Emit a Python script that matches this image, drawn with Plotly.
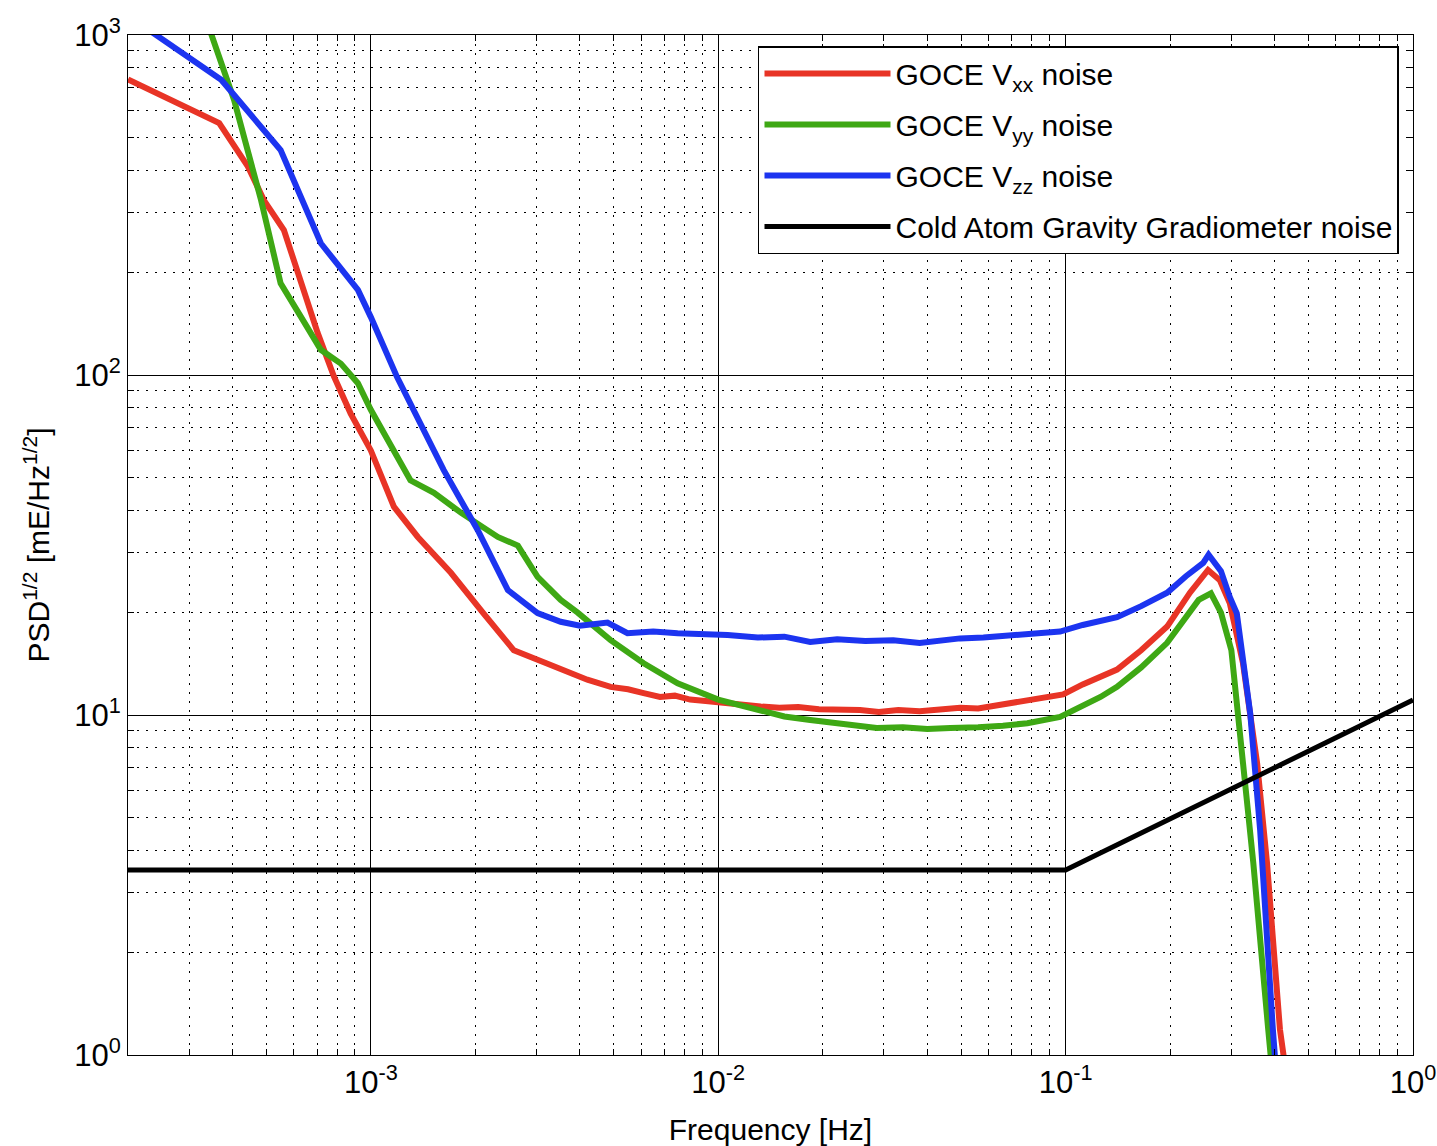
import plotly.graph_objects as go

# ---- data ----
vxx_f = [2.0e-4, 3.66e-4, 4.43e-4, 4.92e-4, 5.62e-4, 6.3e-4, 7.03e-4, 7.83e-4, 8.75e-4, 1.0e-3,
         1.165e-3, 1.365e-3, 1.70e-3, 2.11e-3, 2.58e-3, 3.2e-3, 3.7e-3, 4.2e-3, 4.9e-3,
         5.5e-3, 6.1e-3, 6.8e-3, 7.5e-3, 8.3e-3, 9.2e-3, 0.0106, 0.0118, 0.01325, 0.0150, 0.0170,
         0.0195, 0.0225, 0.0256, 0.029, 0.033, 0.038, 0.0435, 0.0497, 0.056, 0.064, 0.0776, 0.0890,
         0.0984, 0.112, 0.126, 0.1406, 0.165, 0.196, 0.228, 0.257, 0.278, 0.297, 0.324, 0.356,
         0.38, 0.414, 0.43]
vxx_v = [740, 551, 410, 327, 267, 186, 133, 99, 77, 60,
         41, 33.4, 26.2, 19.9, 15.5, 14.2, 13.4, 12.7, 12.1,
         11.9, 11.6, 11.3, 11.4, 11.1, 11.0, 10.8, 10.7, 10.6, 10.5, 10.55,
         10.4, 10.4, 10.35, 10.2, 10.35, 10.25, 10.4, 10.5, 10.45, 10.7, 11.1, 11.3,
         11.5, 12.3, 12.9, 13.6, 15.5, 18.2, 22.9, 26.7, 24.9, 21.3, 14.2, 7.2,
         3.67, 1.19, 0.9]

vyy_f = [3.2e-4, 3.47e-4, 4.04e-4, 4.83e-4, 5.5e-4, 6.3e-4, 7.18e-4, 8.2e-4, 9.18e-4, 1.0e-3,
         1.3e-3, 1.52e-3, 1.82e-3, 2.32e-3, 2.65e-3, 3.02e-3, 3.52e-3, 3.94e-3, 4.9e-3, 6.1e-3,
         7.64e-3, 0.0100, 0.01325, 0.0155, 0.0184, 0.0215, 0.024, 0.0286, 0.034, 0.040, 0.0466,
         0.0497, 0.056, 0.066, 0.0776, 0.0964, 0.112, 0.126, 0.1406, 0.165, 0.196, 0.2416, 0.262,
         0.280, 0.300, 0.324, 0.347, 0.383, 0.395]
vyy_v = [1280, 1000, 644, 327, 186, 148, 118.6, 108, 94.6, 79,
         49, 45, 39.3, 33.4, 31.5, 25.5, 21.8, 20.0, 16.6, 14.2,
         12.4, 11.1, 10.35, 9.9, 9.67, 9.5, 9.4, 9.16, 9.2, 9.1, 9.16,
         9.16, 9.2, 9.3, 9.46, 9.87, 10.6, 11.3, 12.1, 13.8, 16.3, 21.8, 22.8,
         20.0, 15.5, 7.2, 3.67, 1.19, 0.85]

vzz_f = [2.0e-4, 2.41e-4, 3.71e-4, 5.5e-4, 7.18e-4, 9.18e-4, 1.0e-3, 1.19e-3, 1.62e-3, 2.03e-3,
         2.48e-3, 3.02e-3, 3.52e-3, 4.0e-3, 4.8e-3, 5.48e-3, 6.5e-3, 7.64e-3, 0.01064, 0.0130,
         0.0155, 0.0184, 0.022, 0.0265, 0.0319, 0.038, 0.0435, 0.0497, 0.058, 0.068, 0.0800,
         0.0964, 0.112, 0.1406, 0.165, 0.196, 0.222, 0.249, 0.258, 0.280, 0.297, 0.311, 0.34,
         0.363, 0.395, 0.405]
vzz_v = [1140, 1000, 738, 459, 244, 178, 148, 98.6, 52.6, 35,
         23.3, 19.95, 18.8, 18.3, 18.7, 17.4, 17.6, 17.4, 17.2, 16.9,
         17.0, 16.4, 16.7, 16.5, 16.6, 16.3, 16.6, 16.8, 16.9, 17.1, 17.3,
         17.6, 18.4, 19.4, 20.9, 22.9, 25.6, 28.0, 29.6, 26.5, 22.2, 19.9, 10.1,
         4.6, 1.19, 0.85]

cagg_f = [2.0e-4, 0.1, 1.0]
cagg_v = [3.5, 3.5, 11.07]

series = [
    ("GOCE V<sub>xx</sub> noise", vxx_f, vxx_v, "rgb(232,52,38)", 6),
    ("GOCE V<sub>yy</sub> noise", vyy_f, vyy_v, "rgb(62,168,20)", 6),
    ("GOCE V<sub>zz</sub> noise", vzz_f, vzz_v, "rgb(28,52,240)", 6),
    ("Cold Atom Gravity Gradiometer noise", cagg_f, cagg_v, "black", 5),
]

x_major = [1e-3, 1e-2, 1e-1, 1.0]
x_major_text = ["10<sup>-3</sup>", "10<sup>-2</sup>", "10<sup>-1</sup>", "10<sup>0</sup>"]
y_major = [1.0, 10.0, 100.0, 1000.0]
y_major_text = ["10<sup>0</sup>", "10<sup>1</sup>", "10<sup>2</sup>", "10<sup>3</sup>"]
x_minor = [m * 10.0 ** e for e in (-4, -3, -2, -1) for m in range(2, 10)]
y_minor = [m * 10.0 ** e for e in (0, 1, 2) for m in range(2, 10)]

FONT = "Liberation Sans, Arial, sans-serif"

fig = go.Figure()
for i, (name, fx, fv, col, w) in enumerate(series):
    fig.add_trace(go.Scatter(x=fx, y=fv, mode="lines", name=name, legendgroup="g%d" % i,
                             line=dict(color=col, width=w)))

axis_common = dict(
    type="log", showline=True, linecolor="black", linewidth=1.2, mirror="allticks",
    ticks="inside", ticklen=10, tickcolor="black", tickwidth=1, automargin=False,
    showgrid=True, gridcolor="black", gridwidth=1, zeroline=False,
    tickfont=dict(size=31, color="black", family=FONT), tickmode="array",
)

fig.update_xaxes(
    **axis_common, range=[-3.699, 0.0], tickvals=x_major, ticktext=x_major_text,
    title=dict(text="Frequency [Hz]", font=dict(size=30, color="black", family=FONT), standoff=20),
    minor=dict(tickmode="array", tickvals=x_minor, ticks="inside", ticklen=6, tickcolor="black",
               showgrid=True, gridcolor="black", gridwidth=1, griddash="2px,7px"),
)
fig.update_yaxes(
    **axis_common, range=[0.0, 3.0], tickvals=y_major, ticktext=y_major_text,
    title=dict(text="PSD<sup>1/2</sup> [mE/Hz<sup>1/2</sup>]",
               font=dict(size=30, color="black", family=FONT), standoff=15),
    minor=dict(tickmode="array", tickvals=y_minor, ticks="inside", ticklen=6, tickcolor="black",
               showgrid=True, gridcolor="black", gridwidth=1, griddash="2px,7px"),
)

fig.update_layout(
    width=1437, height=1146,
    margin=dict(l=128, r=24, t=35, b=91),
    paper_bgcolor="white", plot_bgcolor="white",
    font=dict(family=FONT, color="black"),
    showlegend=True,
    legend=dict(x=0.9891, y=0.9892, xanchor="right", yanchor="top",
                bgcolor="white", bordercolor="black", borderwidth=1.5,
                font=dict(size=30, color="black", family=FONT),
                itemwidth=126, tracegroupgap=9),
)

fig.write_html("out.html", config={"displayModeBar": False},
               post_script="document.body.style.margin='0';")
